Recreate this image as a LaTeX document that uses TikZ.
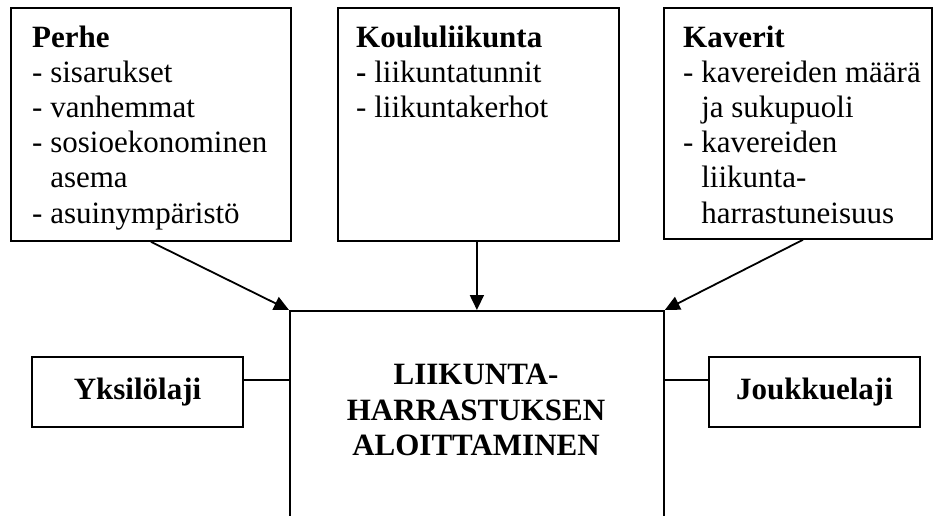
\documentclass[tikz,border=0pt]{standalone}
\usepackage{fontspec}
\setmainfont{Liberation Serif}
\usetikzlibrary{arrows.meta,calc}
\begin{document}
\begin{tikzpicture}[x=1pt,y=-1pt,
  box/.style={draw,line width=1.8pt,inner sep=0pt},
  txt/.style={align=left,inner sep=0pt,font=\fontsize{31}{35.2}\selectfont},
  ctxt/.style={align=center,inner sep=0pt,font=\fontsize{31}{35.5}\selectfont\bfseries},
  lbl/.style={box,minimum width=211pt,minimum height=70pt,font=\fontsize{31}{35}\selectfont\bfseries},
  conn/.style={line width=1.8pt},
  arr/.style={line width=1.8pt,-{Triangle[length=15pt,width=14pt]}}]
\useasboundingbox (0,0) rectangle (933,515);
\clip (0,0) rectangle (933,515);
% top boxes
\node[box,minimum width=280pt,minimum height=233pt,anchor=north west] (perhe) at (10,7) {};
\node[box,minimum width=281pt,minimum height=233pt,anchor=north west] (koulu) at (337,7) {};
\node[box,minimum width=268pt,minimum height=231pt,anchor=north west] (kaverit) at (663,7) {};
\node[txt,anchor=base west] (perhetxt) at (32,223) {\textbf{Perhe}\\- sisarukset\\- vanhemmat\\- sosioekonominen\\\phantom{- }asema\\- asuinympäristö};
\node[txt,anchor=base west] (koulutxt) at (356,117.4) {\textbf{Koululiikunta}\\\textbf{-} liikuntatunnit\\- liikuntakerhot};
\node[txt,anchor=base west] (kavertxt) at (683,223) {\textbf{Kaverit}\\- kavereiden määrä\\\phantom{- }ja sukupuoli\\- kavereiden\\\phantom{- }liikunta-\\\phantom{- }harrastuneisuus};
% central box
\node[box,minimum width=374pt,minimum height=260pt,anchor=north west] (goal) at (289,310) {};
\node[ctxt] (goaltxt) at (476,410) {LIIKUNTA-\\HARRASTUKSEN\\ALOITTAMINEN};
% side boxes
\node[lbl] (yksi) at (137.5,392) {Yksilölaji};
\node[lbl] (jouk) at (814.5,392) {Joukkuelaji};
% connectors
\draw[conn] ($(yksi.north east)!0.33!(yksi.south east)$) coordinate (yk) -- (yk -| goal.west);
\draw[conn] ($(jouk.north west)!0.33!(jouk.south west)$) coordinate (jo) -- (jo -| goal.east);
\draw[arr] (perhe.south) -- (goal.north west);
\draw[arr] (goal.north |- koulu.south) -- (goal.north);
\draw[arr] ($(kaverit.south)+(5,0)$) -- (goal.north east);
\end{tikzpicture}
\end{document}
